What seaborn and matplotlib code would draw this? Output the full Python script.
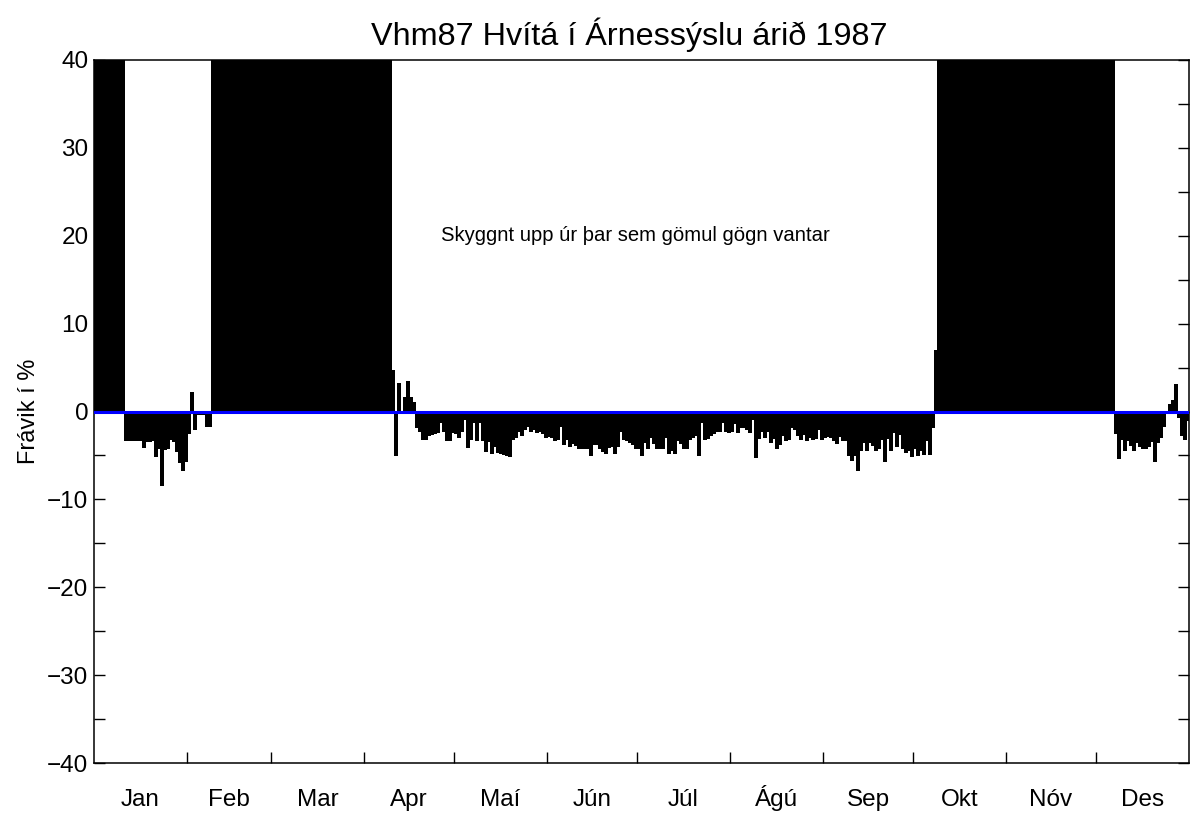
import numpy as np
import pandas as pd
import matplotlib
matplotlib.use('Agg')
import matplotlib.pyplot as plt
from matplotlib.ticker import FixedLocator, MultipleLocator, FuncFormatter
import seaborn as sns

# Monthly layout (1987, not a leap year)
months = ['Jan', 'Feb', 'Mar', 'Apr', 'Maí', 'Jún',
          'Júl', 'Ágú', 'Sep', 'Okt', 'Nóv', 'Des']
month_days = [31, 28, 31, 30, 31, 30, 31, 31, 30, 31, 30, 31]

# Deviation in % per day
jan_start = 10          # Jan 11
jan_vals = [-3.3, -3.3, -3.3, -3.3, -3.3, -3.3, -4.0, -3.4, -3.4, -3.3,
            -5.1, -4.1, -8.4, -4.3, -4.1, -3.1, -3.4, -4.5, -5.7, -6.7,
            -5.6, -2.5, 2.2, -2.0, -0.3, -0.3, -0.3, -1.6, -1.7]

vor_start = 99          # Apr 10
vor_vals = [4.7, -5.0, 3.3, -0.2, 1.6, 3.5, 1.6, 1.1,
            -1.8, -2.2, -3.1, -3.1, -2.7, -2.6, -2.5, -2.3, -1.2, -2.2,
            -3.2, -3.2, -2.3, -2.4, -2.9, -2.2, -0.8, -4.0, -3.1, -1.2,
            -3.3, -1.2, -3.3, -4.5, -3.4, -4.7, -3.9, -4.6, -4.7, -4.8,
            -4.9, -5.1, -3.1, -2.9, -2.2, -2.7, -2.0, -1.6, -2.2, -2.0,
            -2.3, -2.2, -2.5, -2.9, -2.8, -2.9, -3.2, -3.1, -1.6, -3.7,
            -3.1, -3.9, -3.6, -3.8, -4.1, -4.2, -4.1, -4.2, -5.0, -3.7,
            -3.7, -4.2, -4.5, -4.7, -4.0, -3.9, -4.7, -3.9, -2.2, -3.1,
            -3.3, -3.5, -3.7, -4.1, -4.1, -4.9, -3.5, -4.1, -2.9, -3.6,
            -4.1, -4.2,
            -4.2, -2.9, -4.7, -4.4, -4.7, -3.3, -3.6, -4.1, -4.1, -3.1,
            -2.9, -2.7, -5.0, -1.2, -3.1, -3.0, -2.7, -2.5, -2.2, -2.2,
            -1.2, -2.2, -2.3, -2.2, -1.3, -2.3, -1.8, -1.8, -2.0, -2.3,
            -0.8, -5.2, -3.0, -2.2, -2.9, -2.2, -3.5, -3.0, -4.2, -3.7,
            -2.7, -3.2, -3.1, -1.8, -2.0, -2.7, -3.1, -2.6, -3.2, -2.9,
            -3.1, -3.0, -2.0, -3.1, -2.9, -2.8, -2.9, -3.3, -3.6, -2.8,
            -3.3, -3.2, -5.0, -5.5, -5.0, -6.7, -4.4, -3.5, -4.4, -3.5,
            -3.8, -4.4, -4.1, -3.1, -5.6, -3.0, -4.4, -2.3, -3.9, -2.6,
            -4.1, -4.6, -4.4, -5.1, -4.2, -4.9, -4.4, -4.8, -3.3, -4.8,
            -1.8, 7.0]

des_start = 340         # Dec 7
des_vals = [-2.5, -5.3, -3.1, -4.4, -3.3, -3.8, -4.4, -3.5, -3.9, -4.1,
            -4.1, -3.9, -3.4, -5.6, -3.5, -2.9, -1.7, -0.1, 0.8, 1.3,
            3.1, -0.6, -2.7, -3.1, -1.0]

# days with no old data, shaded up to the top of the axis
shade_top = 40

n_days = sum(month_days)
fravik = np.full(n_days, float(shade_top))
fravik[jan_start:jan_start + len(jan_vals)] = jan_vals
fravik[vor_start:vor_start + len(vor_vals)] = vor_vals
fravik[des_start:des_start + len(des_vals)] = des_vals

df = pd.DataFrame({'dagur': np.arange(n_days) + 0.5, 'fravik': fravik})

sns.set_style('white')
plt.rcParams['font.family'] = ['Liberation Sans', 'DejaVu Sans']
plt.rcParams['text.color'] = 'black'
plt.rcParams['axes.labelcolor'] = 'black'
plt.rcParams['xtick.color'] = 'black'
plt.rcParams['ytick.color'] = 'black'

fig = plt.figure(figsize=(11.99, 8.16), dpi=100)
ax = fig.add_axes([94 / 1199, 53 / 816, 1095 / 1199, 703 / 816])

sns.barplot(data=df, x='dagur', y='fravik', native_scale=True, color='black',
            saturation=1, width=1.0, errorbar=None, linewidth=0.5,
            edgecolor='black', antialiased=False, ax=ax)
ax.axhline(0, color='blue', lw=2.2, zorder=5)

ax.set_xlim(0, n_days)
ax.set_ylim(-40, 40)

bounds = np.cumsum([0] + month_days)
centers = (bounds[:-1] + bounds[1:]) / 2
ax.xaxis.set_major_locator(FixedLocator(centers))
ax.set_xticklabels(months)
for lab in ax.get_xticklabels():
    lab.set_verticalalignment('baseline')
ax.xaxis.set_minor_locator(FixedLocator(bounds[1:-1]))
ax.tick_params(axis='x', which='major', length=0, pad=31, labelsize=17.5)
ax.tick_params(axis='x', which='minor', direction='in', length=8, width=1,
               bottom=True, top=False)

ax.yaxis.set_major_locator(MultipleLocator(10))
ax.yaxis.set_minor_locator(MultipleLocator(5))
ax.yaxis.set_major_formatter(FuncFormatter(lambda v, p: f'{v:.0f}'.replace('-', '\u2212')))
ax.tick_params(axis='y', which='both', direction='in', length=8, width=1,
               left=True, right=True, pad=4, labelsize=17.5)

for s in ax.spines.values():
    s.set_visible(True)
    s.set_color('black')
    s.set_linewidth(1.1)

ax.set_xlabel('')
ax.set_ylabel('Frávik í %', fontsize=17, labelpad=5)
ax.set_title('Vhm87 Hvítá í Árnessýslu árið 1987', fontsize=23.3, pad=11, x=0.489)
ax.text(115.7, 20, 'Skyggnt upp úr þar sem gömul gögn vantar',
        fontsize=14.6, ha='left', va='center')

fig.savefig('out.png', dpi=100)
plt.close(fig)
